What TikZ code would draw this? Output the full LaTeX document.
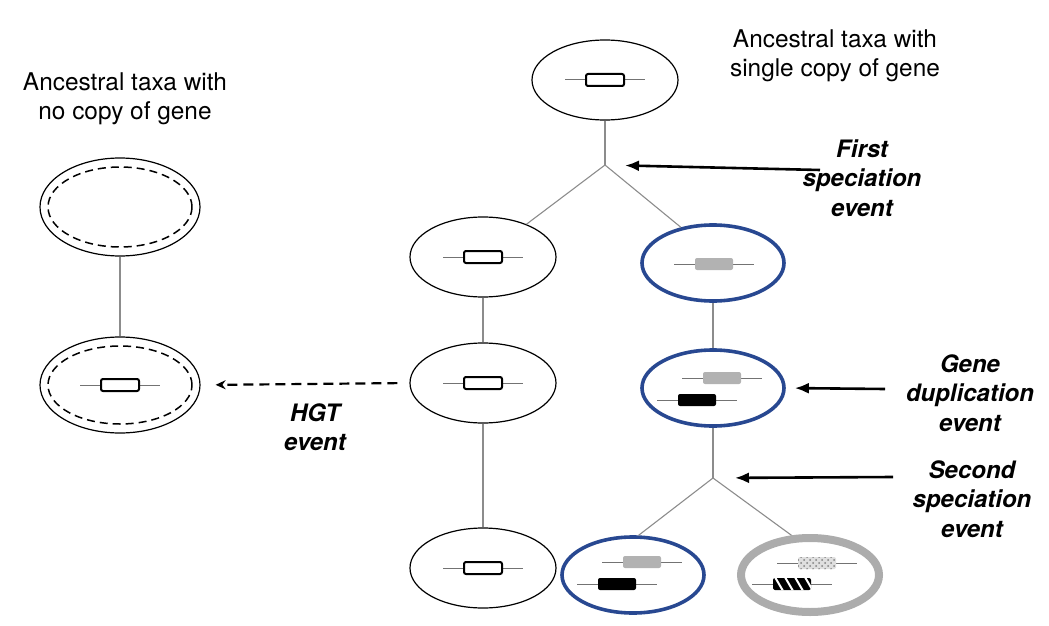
\documentclass[tikz,border=0pt]{standalone}
\usepackage{fontspec}
\setmainfont{TeX Gyre Heros}
\usepackage{xcolor}
\usetikzlibrary{shapes.geometric,arrows.meta,patterns}

\definecolor{taxablue}{RGB}{40,72,145}
\definecolor{taxagray}{RGB}{172,172,172}
\definecolor{genegray}{RGB}{178,178,178}

\tikzset{
    taxon/.style={ellipse, draw, line width=0.6pt, minimum width=73pt, minimum height=40pt, inner sep=0pt},
    bluetaxon/.style={taxon, draw=taxablue, line width=1.8pt, minimum width=71pt, minimum height=38pt},
    graytaxon/.style={taxon, draw=taxagray, line width=4pt, minimum width=69pt, minimum height=37pt},
    notaxon/.style={taxon, line width=0.75pt, dash pattern=on 4pt off 2.5pt, minimum width=72pt},
    branch/.style={draw=black!45, line width=0.55pt},
    lead/.style={draw=black!55, line width=0.5pt},
    genebox/.style={rectangle, rounded corners=1pt, minimum width=19pt, minimum height=6pt, inner sep=0pt},
    emptygene/.style={genebox, draw, line width=1pt, fill=white},
    graygene/.style={genebox, fill=genegray},
    blackgene/.style={genebox, fill=black},
    eventarrow/.style={-{Latex[length=7pt,width=5.5pt]}, line width=1.3pt},
    hgtarrow/.style={-{Stealth[length=5pt,width=4.5pt]}, line width=1.1pt, dash pattern=on 5pt off 3pt},
    taxatext/.style={align=center, font=\fontsize{12.2}{14.5}\selectfont},
    eventtext/.style={align=center, font=\fontsize{12}{14.7}\selectfont\bfseries\itshape},
}

% gene: name, centre, style
\newcommand{\gene}[3]{%
    \draw[lead] (#2) ++(-40,0) -- ++(80,0);
    \node[#3] (#1) at (#2) {};
}

\begin{document}
\begin{tikzpicture}[x=0.5pt, y=-0.5pt]
    \useasboundingbox (0,0) rectangle (1049,626);

    % taxa
    \node[taxon] (anc) at (605,80) {};
    \node[taxon] (c1) at (483,257) {};
    \node[taxon] (c2) at (483,383) {};
    \node[taxon] (c3) at (483,568) {};
    \node[bluetaxon] (r1) at (713,263) {};
    \node[bluetaxon] (r2) at (713,388) {};
    \node[bluetaxon] (b1) at (633,575) {};
    \node[graytaxon] (b2) at (810,575) {};

    % taxa without gene (double outline)
    \node[taxon, minimum width=80pt, minimum height=49pt] (ltop) at (120,207) {};
    \node[notaxon, minimum height=40pt] (ltopin) at (120,207) {};
    \node[taxon, minimum width=80pt, minimum height=48pt] (lbot) at (120,385) {};
    \node[notaxon, minimum height=39pt] (lbotin) at (120,385) {};

    % split points
    \coordinate (split1) at (605,165);
    \coordinate (split2) at (713,478);

    % tree
    \draw[branch] (anc.south) -- (split1);
    \draw[branch] (split1) -- (c1);
    \draw[branch] (split1) -- (r1.132);
    \draw[branch] (c1.south) -- (c2.north);
    \draw[branch] (c2.south) -- (c3.north);
    \draw[branch] (r1.south) -- (r2.north);
    \draw[branch] (r2.south) -- (split2);
    \draw[branch] (split2) -- (b1.82);
    \draw[branch] (split2) -- (b2.115);
    \draw[branch] (ltop.south) -- (lbot.north);

    % genes
    \gene{g0}{605,80}{emptygene}
    \gene{g1}{483,257}{emptygene}
    \gene{g2}{483,383}{emptygene}
    \gene{g3}{483,568}{emptygene}
    \gene{g4}{120,385}{emptygene}
    \gene{g5}{714,264}{graygene}
    \gene{g6}{722,378}{graygene}
    \gene{g7}{697,400}{blackgene}
    \gene{g8}{642,562}{graygene}
    \gene{g9}{617,584}{blackgene}
    \gene{g10}{817,563}{graygene, fill=gray!25, postaction={pattern=crosshatch dots, pattern color=gray}}
    \gene{g11}{792,584}{blackgene}
    % stripes on the last gene
    \begin{scope}
        \clip[rounded corners=1pt] (g11.south west) rectangle (g11.north east);
        \foreach \s in {-10,0,...,30}
            \draw[white, line width=1pt] (772+\s,572) -- ++(14,24);
    \end{scope}

    % events
    \coordinate (a1) at (820,170);
    \coordinate (a2) at (885,389);
    \coordinate (a3) at (893,477);
    \draw[eventarrow, shorten >=10pt] (a1) -- (split1);
    \draw[eventarrow, shorten >=4.5pt] (a2) -- (r2.east);
    \draw[eventarrow, shorten >=11pt] (a3) -- (split2);
    \draw[hgtarrow, shorten <=6pt, shorten >=7.5pt] (c2.west) -- (lbot.east);

    % labels
    \node[taxatext] (t1) at (125,99) {Ancestral taxa with\\no copy of gene};
    \node[taxatext] (t2) at (835,56) {Ancestral taxa with\\single copy of gene};
    \node[eventtext] (e1) at (862,178) {First\\speciation\\event};
    \node[eventtext] (e2) at (970,393) {Gene\\duplication\\event};
    \node[eventtext] (e3) at (972,499) {Second\\speciation\\event};
    \node[eventtext] (e4) at (315,427) {HGT\\event};
\end{tikzpicture}
\end{document}
